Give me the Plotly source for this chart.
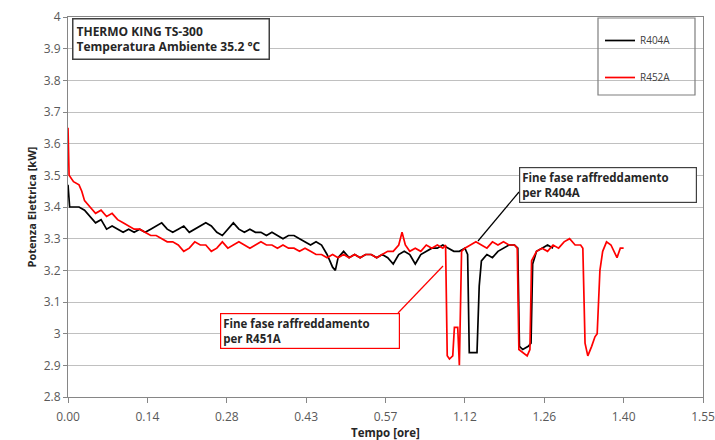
import plotly.graph_objects as go

# ---- data (time in minutes, power in kW) ----
r404a_t = [0, 0.3, 1, 2, 3, 4, 5, 6, 7, 8, 9, 10, 11, 12, 13, 14, 15, 16, 17, 18, 19, 20,
           21, 22, 23, 24, 25, 26, 27, 28, 29, 30, 31, 32, 33, 34, 35, 36, 37, 38, 39, 40,
           41, 42, 43, 44, 45, 46, 47, 48, 48.5, 49, 50, 51, 52, 53, 54, 55, 56, 57, 58, 59,
           60, 61, 62, 63, 64, 65, 66, 67, 68, 69, 70, 71, 72, 72.5, 72.8, 73.5, 74.2, 74.6,
           75, 76, 77, 78, 79, 80, 81, 81.6, 81.9, 82.5, 83.5, 84, 84.3, 85, 86, 87, 88]
r404a_kw = [3.47, 3.40, 3.40, 3.40, 3.39, 3.37, 3.35, 3.36, 3.33, 3.34, 3.33, 3.32, 3.33, 3.32,
            3.33, 3.32, 3.33, 3.34, 3.35, 3.33, 3.32, 3.33, 3.34, 3.32, 3.33, 3.34, 3.35, 3.34,
            3.32, 3.31, 3.33, 3.35, 3.33, 3.32, 3.33, 3.32, 3.32, 3.31, 3.32, 3.31, 3.30, 3.31,
            3.31, 3.30, 3.29, 3.28, 3.29, 3.28, 3.25, 3.21, 3.20, 3.24, 3.26, 3.24, 3.25, 3.24,
            3.25, 3.25, 3.24, 3.25, 3.24, 3.22, 3.25, 3.26, 3.25, 3.22, 3.25, 3.26, 3.27, 3.27,
            3.28, 3.27, 3.26, 3.26, 3.27, 3.25, 2.94, 2.94, 2.94, 3.15, 3.23, 3.25, 3.24, 3.26,
            3.27, 3.28, 3.28, 3.27, 2.96, 2.95, 2.96, 2.97, 3.22, 3.26, 3.27, 3.28, 3.27]

r452a_t = [0, 0.2, 1, 2, 2.5, 3, 4, 5, 6, 7, 8, 9, 10, 11, 12, 13, 14, 15, 16, 17, 18, 19, 20,
           21, 22, 23, 24, 25, 26, 27, 28, 29, 30, 31, 32, 33, 34, 35, 36, 37, 38, 39, 40,
           41, 42, 43, 44, 45, 46, 47, 48, 49, 50, 51, 52, 53, 54, 55, 56, 57, 58, 59, 60,
           60.6, 61.2, 62, 63, 64, 65, 66, 67, 68, 68.5, 68.8, 69.2, 69.8, 70.1, 70.7, 71.0,
           71.4, 72, 73, 74, 75, 76, 77, 78, 79, 80, 81, 81.5, 81.8, 82.5, 83.3, 83.8, 84.1,
           85, 86, 87, 88, 89, 90, 91, 92, 93, 93.4, 93.8, 94.3, 95, 95.6, 96.0, 96.5, 97,
           97.7, 98.5, 99, 99.6, 100.2, 100.8]
r452a_kw = [3.65, 3.50, 3.48, 3.47, 3.45, 3.42, 3.40, 3.38, 3.39, 3.37, 3.38, 3.36, 3.35, 3.34,
            3.33, 3.33, 3.32, 3.31, 3.31, 3.30, 3.29, 3.29, 3.28, 3.26, 3.27, 3.29, 3.28, 3.28,
            3.26, 3.27, 3.29, 3.27, 3.28, 3.29, 3.28, 3.27, 3.28, 3.29, 3.28, 3.28, 3.27, 3.28,
            3.27, 3.27, 3.26, 3.27, 3.26, 3.25, 3.25, 3.24, 3.25, 3.24, 3.25, 3.24, 3.25, 3.24,
            3.25, 3.25, 3.24, 3.25, 3.26, 3.26, 3.28, 3.32, 3.28, 3.26, 3.27, 3.26, 3.28, 3.27,
            3.28, 3.27, 3.28, 2.93, 2.92, 2.93, 3.02, 3.02, 2.90, 3.26, 3.27, 3.28, 3.29, 3.28,
            3.27, 3.29, 3.28, 3.29, 3.28, 3.28, 3.27, 2.95, 2.94, 2.93, 2.95, 3.23, 3.26, 3.27,
            3.26, 3.28, 3.27, 3.29, 3.30, 3.28, 3.28, 3.27, 2.97, 2.93, 2.96, 2.99, 3.00, 3.20,
            3.26, 3.29, 3.28, 3.26, 3.24, 3.27, 3.27]

tick_vals = [0, 14.4, 28.8, 43.2, 57.6, 72, 86.4, 100.8, 115.2]
tick_text = ["0.00", "0.14", "0.28", "0.43", "0.57", "1.12", "1.26", "1.40", "1.55"]
y_ticks = [2.8, 2.9, 3.0, 3.1, 3.2, 3.3, 3.4, 3.5, 3.6, 3.7, 3.8, 3.9, 4.0]
y_text = ["2.8", "2.9", "3", "3.1", "3.2", "3.3", "3.4", "3.5", "3.6", "3.7", "3.8", "3.9", "4"]

# ---- layout helpers (target pixel -> paper) ----
L, R, T, B = 68, 703, 17, 397
W, H = 715, 440
def px(x):
    return (x - L) / (R - L)
def py(y):
    return (B - y) / (B - T)

FONT = "Open Sans, Liberation Sans, sans-serif"

fig = go.Figure()
fig.add_trace(go.Scatter(x=r404a_t, y=r404a_kw, mode="lines", name="R404A",
                         line=dict(color="#000000", width=1.7), legendgroup="a"))
fig.add_trace(go.Scatter(x=r452a_t, y=r452a_kw, mode="lines", name="R452A",
                         line=dict(color="#ff0000", width=1.7), legendgroup="b"))

shapes = []
# legend frame
shapes.append(dict(type="rect", xref="paper", yref="paper",
                   x0=px(598), x1=px(695), y0=py(95), y1=py(18),
                   line=dict(color="#7f7f7f", width=1.2), fillcolor="rgba(0,0,0,0)"))
# callout lines
shapes.append(dict(type="line", xref="paper", yref="paper",
                   x0=px(519), y0=py(192), x1=px(478), y1=py(241),
                   line=dict(color="#000000", width=1.2)))
shapes.append(dict(type="line", xref="paper", yref="paper",
                   x0=px(398), y0=py(313), x1=px(443), y1=py(266),
                   line=dict(color="#ff0000", width=1.2)))

annotations = []
annotations.append(dict(xref="paper", yref="paper", x=px(72), y=py(18),
                        xanchor="left", yanchor="top", showarrow=False, align="left",
                        text="<b>THERMO KING TS-300<br>Temperatura Ambiente 35.2 °C</b>",
                        font=dict(family=FONT, size=12, color="#262626"),
                        bordercolor="#404040", borderwidth=1.5, borderpad=3,
                        bgcolor="white", width=189))
annotations.append(dict(xref="paper", yref="paper", x=px(519), y=py(167),
                        xanchor="left", yanchor="top", showarrow=False, align="left",
                        text="<b>Fine fase raffreddamento<br>per R404A</b>",
                        font=dict(family=FONT, size=11.5, color="#262626"),
                        bordercolor="#404040", borderwidth=1.2, borderpad=2,
                        bgcolor="white", width=172))
annotations.append(dict(xref="paper", yref="paper", x=px(220), y=py(313),
                        xanchor="left", yanchor="top", showarrow=False, align="left",
                        text="<b>Fine fase raffreddamento<br>per R451A</b>",
                        font=dict(family=FONT, size=11.5, color="#262626"),
                        bordercolor="#ff0000", borderwidth=1.2, borderpad=2,
                        bgcolor="white", width=174))

fig.update_layout(
    template="none",
    width=W, height=H,
    margin=dict(l=L, r=W - R, t=T, b=H - B, pad=0),
    paper_bgcolor="white", plot_bgcolor="white",
    font=dict(family=FONT, size=11, color="#404040"),
    showlegend=True,
    legend=dict(x=px(600), y=py(26), xanchor="left", yanchor="top",
                bgcolor="rgba(0,0,0,0)", borderwidth=0, tracegroupgap=18,
                font=dict(family=FONT, size=10, color="#404040"), itemwidth=30),
    shapes=shapes, annotations=annotations,
    xaxis=dict(range=[0, 115.2], tickvals=tick_vals, ticktext=tick_text, automargin=False,
               showgrid=False, zeroline=False, showline=True, linecolor="#868686",
               linewidth=1, mirror=True, ticks="outside", ticklen=5, tickcolor="#868686",
               ticklabelstandoff=4, ticklabeloverflow="allow",
               tickfont=dict(family=FONT, size=12, color="#595959"),
               title=dict(text="<b>Tempo [ore]</b>", standoff=5,
                          font=dict(family=FONT, size=11.5, color="#262626"))),
    yaxis=dict(range=[2.8, 4.0], tickvals=y_ticks, ticktext=y_text, automargin=False,
               showgrid=True, gridcolor="#c0c0c0", gridwidth=1.3, zeroline=False,
               showline=True, linecolor="#868686", linewidth=1, mirror=True,
               ticks="outside", ticklen=4, tickcolor="#868686",
               tickfont=dict(family=FONT, size=12, color="#595959"),
               title=dict(text="<b>Potenza Elettrica [kW]</b>", standoff=4,
                          font=dict(family=FONT, size=11, color="#262626"))),
)

fig.write_html("out.html", config={"displayModeBar": False},
               post_script="document.body.style.margin='0';document.body.style.overflow='hidden';")
